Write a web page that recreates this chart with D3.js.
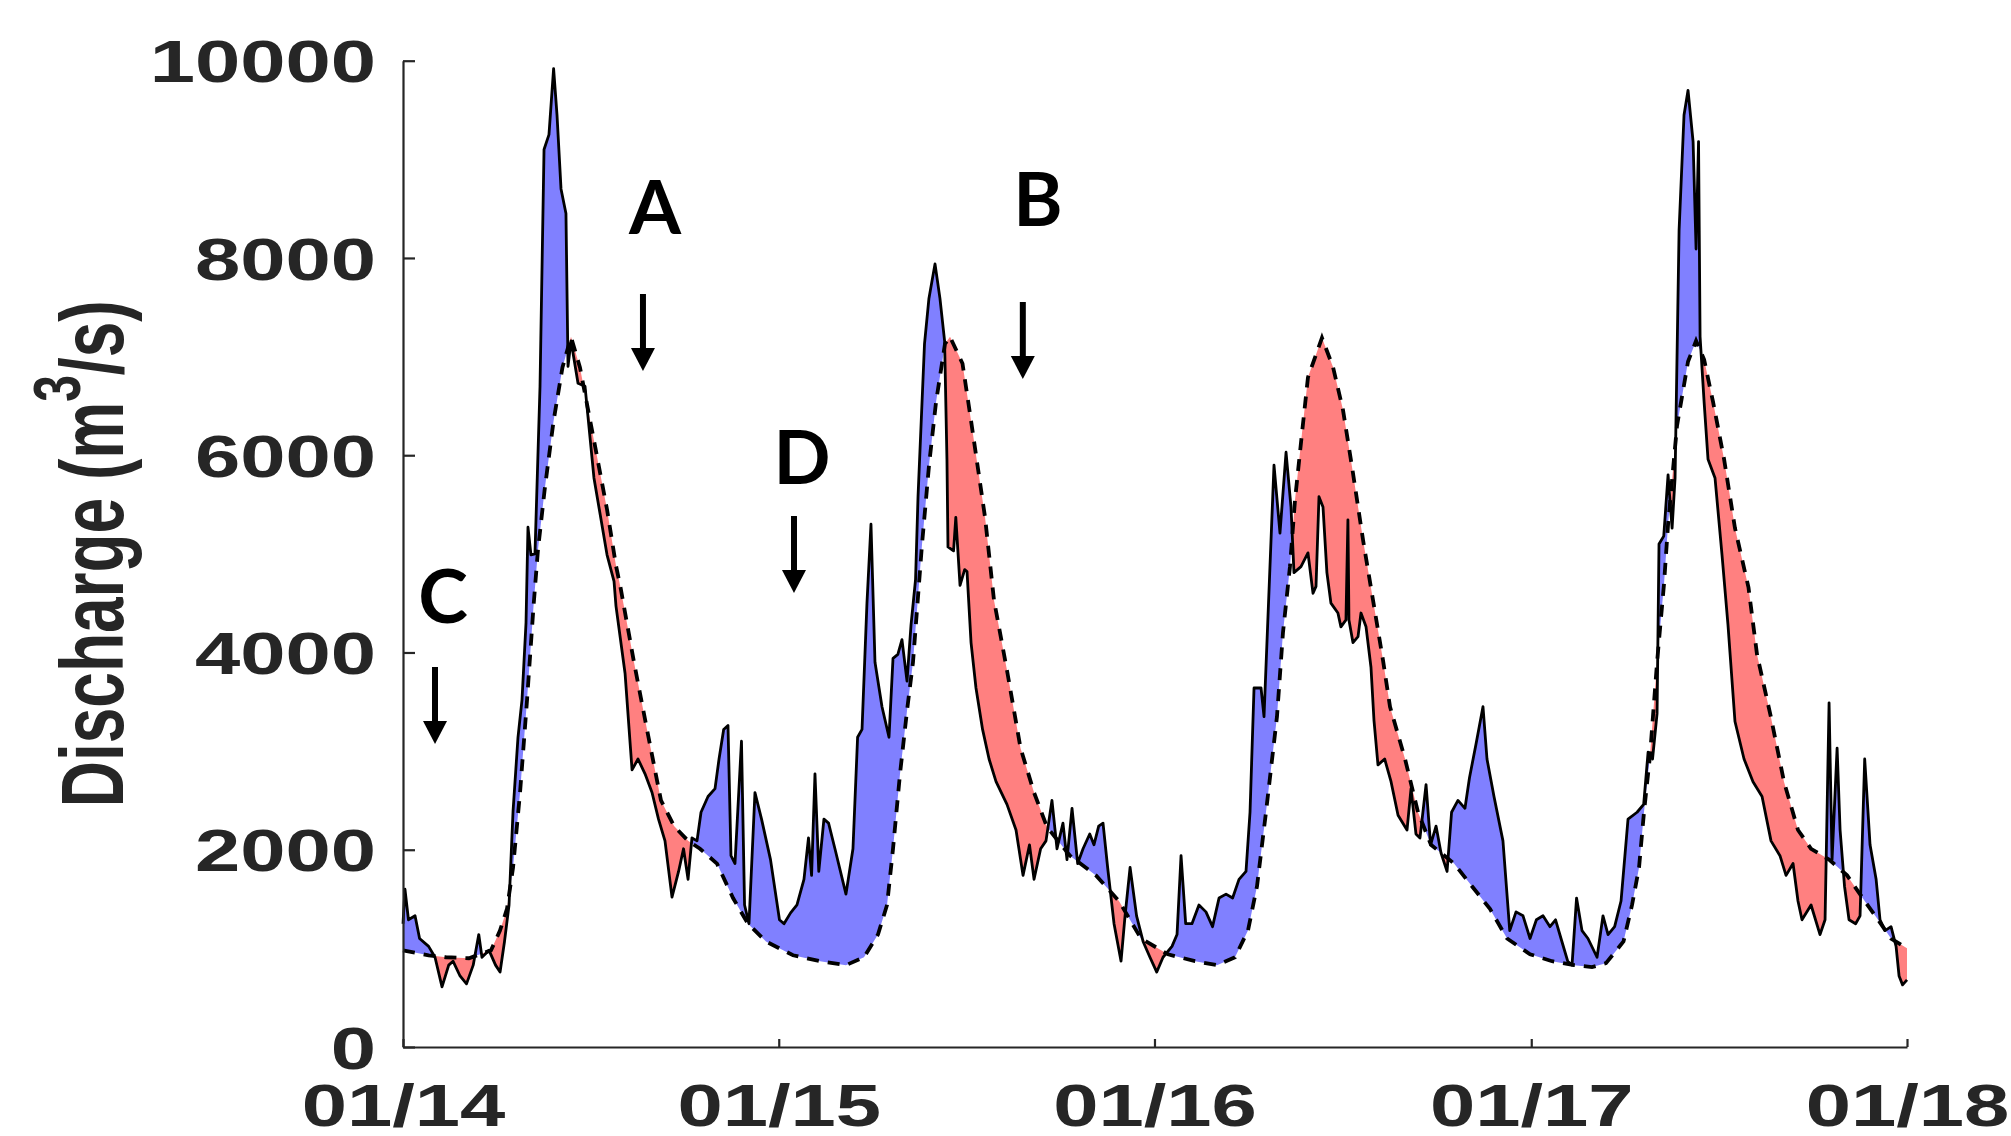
<!DOCTYPE html>
<html><head><meta charset="utf-8">
<script src="https://cdn.jsdelivr.net/npm/d3@7"></script>
<style>html,body{margin:0;padding:0;background:#fff;} svg{display:block;background:#fff}</style>
</head><body>
<svg id="chart" width="2011" height="1136"></svg>
<script>
// ---------------- DATA ----------------
const xTickLabels = ["01/14","01/15","01/16","01/17","01/18"];
const yTickValues = [0,2000,4000,6000,8000,10000];
const yTitle = ["Discharge (m", "3", "/s)"];

// observed discharge: [days since 2014-01-01, m3/s]
const observed = [
[0,1250],[1.9,1600],[5.3,1290],[11.7,1330],[16.1,1100],[24.9,1020],[31.1,910],[37.9,610],[44.4,830],[48.6,870],
[55.4,720],[61.7,640],[68.2,830],[73.6,1140],[76.7,910],[83.6,980],[89.9,830],[94.3,760],[98.6,1070],[103,1440],
[106.9,2390],[111.7,3140],[115.6,3520],[119.5,4300],[121.4,5270],[124.3,4990],[128.2,5000],[133.1,6700],[137,9100],[141.8,9250],
[146.3,9920],[149.6,9450],[153.5,8700],[158.3,8450],[160.3,6900],[163.2,7160],[170,6730],[176.8,6700],[185.5,5770],[198.2,4990],
[205,4720],[206.9,4470],[215.7,3790],[222.5,2810],[228.3,2920],[235.1,2770],[241.9,2580],[248.2,2310],[254.5,2090],[261.3,1520],
[267.7,1780],[272.5,2010],[276.9,1700],[280.7,2120],[285.6,2090],[289.5,2380],[296.3,2540],[303.1,2620],[307,2920],[311.5,3220],
[315.7,3260],[318.6,1940],[322.5,1860],[328.8,3100],[331.8,1440],[336.1,1250],[341.9,2580],[348.3,2310],[357,1900],[365.7,1290],
[370.1,1250],[376.5,1360],[382.7,1440],[389.5,1700],[393.9,2120],[396.9,1740],[400.2,2770],[403.9,1780],[408.9,2310],[413.4,2270],
[419.6,2010],[430.3,1550],[437.1,2010],[441.6,3140],[445.9,3220],[450.7,4500],[454.6,5300],[458.5,3900],[465.3,3450],[472.1,3140],
[476,3940],[480.7,3980],[484.7,4130],[489.6,3710],[493.5,4280],[497.9,4740],[500.3,5580],[506.6,7130],[510.9,7590],[516.8,7940],
[521.6,7590],[526.1,7160],[528.4,5960],[529.4,5070],[534.8,5030],[537,5370],[541.1,4680],[545.6,4840],[547.9,4820],[551.8,4100],
[556.6,3640],[563,3220],[569.3,2920],[576.1,2690],[586.7,2460],[595.5,2200],[602.3,1740],[608.6,2050],[613,1700],[619.4,2010],
[624.6,2090],[630.4,2500],[635.3,2010],[641.1,2270],[645,1900],[649.9,2420],[655.4,1860],[660.6,2010],[667.1,2160],[671.2,2050],
[675.8,2240],[680,2270],[684.5,1820],[690.7,1250],[697.5,870],[701.4,1330],[706.3,1820],[712.6,1330],[718.9,1070],[725.6,910],
[732.2,760],[738.3,910],[747,1020],[751.9,1140],[755.8,1940],[760.3,1250],[766.4,1250],[773.2,1440],[780,1370],[786.4,1220],
[792.7,1510],[799.5,1550],[805.9,1510],[812.1,1700],[818.9,1780],[822.8,2380],[826.7,3640],[833.5,3640],[836.4,3350],[846.1,5900],
[851.9,5210],[857.8,6030],[862.6,5475],[865.5,4810],[872.3,4870],[879.1,5010],[884,4600],[886.9,4670],[889.8,5580],[893.7,5475],
[897.5,4810],[901.4,4500],[908.2,4400],[911.1,4260],[916,4330],[917.9,5345],[918.9,4330],[922.8,4100],[927.7,4160],[930.6,4400],
[935.5,4260],[940.3,3850],[943.2,3315],[947.1,2860],[953.6,2920],
[959.8,2690],[966.6,2350],[975.3,2200],[979.2,2620],[984,2160],[987.9,2120],[993.8,2660],[998.2,2050],[1003.5,2240],[1008.3,1970],
[1014.2,1780],[1018.6,2380],[1024.8,2500],[1031.6,2420],[1036,2730],[1042.3,3070],[1049.1,3450],[1053,2920],[1059.8,2540],[1068.5,2090],
[1075.1,1180],[1081.2,1370],[1088,1330],[1094.8,1100],[1101,1290],[1107.4,1330],[1114.2,1220],[1119.6,1290],[1124.9,1100],[1131.4,870],
[1135.6,830],[1140,1510],[1145.3,1180],[1151.1,1100],[1159.9,910],[1165.7,1330],[1170.6,1140],[1177,1220],[1183.2,1480],[1190,2310],
[1198.8,2380],[1205.2,2460],[1209.5,2990],[1213.8,2920],[1218.2,3380],[1220.1,5100],[1224.7,5180],[1228.9,5800],[1232.8,5260],[1235.7,5770],
[1239.6,8280],[1244.4,9450],[1248.3,9700],[1253.2,9180],[1256.1,8090],[1258.5,9180],[1260,7200],[1263.9,6540],[1267.7,5960],[1274.5,5770],
[1281.3,4990],[1287.1,4280],[1293.9,3300],[1302.7,2920],[1311.4,2690],[1320.2,2540],[1328.9,2090],[1337.6,1940],[1343.5,1740],[1350.3,1860],
[1355.1,1480],[1359,1290],[1367.8,1440],[1376.5,1140],[1381.4,1290],[1385.3,3490],[1388.2,1900],[1393.1,3030],[1396,2200],[1400.3,1630],
[1404.7,1290],[1411.1,1250],[1415.4,1330],[1419.9,2920],[1425.1,2050],[1431,1700],[1434.8,1290],[1439.7,1180],[1445.5,1220],[1450.4,1020],
[1453.3,720],[1456.7,630],[1461,680]
];

// modelled (reference) discharge: [days since 2014-01-01, m3/s]
const model = [
[0,980],[24.9,930],[41.8,910],[64.1,900],[85.5,980],[94.2,1180],[101,1400],[106.9,1820],[113.7,2580],[120.5,3520],
[126.8,4470],[131.1,5040],[137.6,5650],[146.3,6350],[154.9,6890],[163.2,7200],[171.9,6890],[185.5,6150],[198.2,5450],[206.9,4880],
[211.3,4660],[224.4,3900],[237,3220],[250.6,2500],[263.3,2240],[276.9,2090],[288.5,2010],[305,1860],[320.6,1510],[335.1,1250],
[352.6,1070],[378.9,930],[405.1,870],[430.3,830],[447.8,910],[461.4,1140],[470.2,1440],[476,2010],[482.8,2770],[489.6,3410],
[495.4,3900],[504.2,5100],[511,5900],[517.8,6540],[526.5,7130],[531.4,7200],[543.5,6930],[551.8,6350],[565.4,5370],[574.1,4530],
[586.7,3820],[599.9,3030],[613,2580],[625.6,2230],[647.9,1940],[673.2,1740],[695.5,1480],[716.9,1100],[743.1,940],[769.4,870],
[790.7,830],[808.2,910],[820.8,1180],[829.6,1630],[838.3,2380],[849,3350],[854.8,4200],[861.6,4870],[866.5,5545],[873.3,6225],
[879.1,6790],[892.7,7190],[903.4,6895],[913.1,6460],[922.8,5820],[932.6,5140],[942.3,4530],[952,3920],[958.8,3450],[973.4,2920],
[986,2380],[998.6,2050],
[1021,1860],[1038.4,1630],[1055.9,1400],[1072.5,1100],[1094.8,940],[1116.2,870],[1137.5,830],[1155,810],[1168.6,850],[1185.6,1070],
[1193.9,1440],[1200.7,1820],[1205.5,2380],[1211.4,2960],[1218.2,3900],[1225,4700],[1228.9,5300],[1237.6,6300],[1248.3,6950],[1256.1,7160],
[1263.9,6970],[1272.6,6540],[1283.3,5960],[1293.9,5260],[1307,4660],[1315.3,3980],[1328.9,3340],[1341.5,2690],[1355.1,2200],[1367.8,2010],
[1385.3,1900],[1402.8,1740],[1419.9,1480],[1432.9,1290],[1445.5,1100],[1461,1000]
];

// annotation letters and arrows (anchored in data units)
const annLabels = ["A","B","C","D"];
const annArrowDay = [233.1, 602.1, 31.1, 379.8];
const annArrowQ   = [6854, 6773, 3072, 4603];
const annTextDay  = [244.8, 616.8, 38.9, 387.6];
const annTextQ    = [8243, 8324, 4299, 5708];

// ---------------- DRAW ----------------
const W = 2011, H = 1136;
const SX = 1.38;              // horizontal stretch of the original figure's text
const tickFont = "'Liberation Sans', Arial, Helvetica, sans-serif";
const axisColor = "#262626";

const svg = d3.select("#chart");
svg.append("rect").attr("width", W).attr("height", H).attr("fill", "#fff");

const start = Date.UTC(2014,0,1);
const dayToDate = d => new Date(start + d*86400000);
const xTickDates = xTickLabels.map(s => new Date(Date.UTC(2000 + (+s.slice(3)), +s.slice(0,2) - 1, 1)));

const x = d3.scaleUtc().domain([xTickDates[0], xTickDates[xTickDates.length-1]]).range([403, 1907]);
const y = d3.scaleLinear().domain([0, 10000]).range([1047, 60.7]);

const X = d => x(dayToDate(d[0]));
const Y = d => y(d[1]);

const defs = svg.append("defs");
defs.append("clipPath").attr("id","aboveModel").append("path")
  .attr("d", d3.area().x(X).y0(0).y1(Y)(model));
defs.append("clipPath").attr("id","belowModel").append("path")
  .attr("d", d3.area().x(X).y0(H).y1(Y)(model));

// blue where observed > model, red where observed < model
svg.append("path")
  .attr("d", d3.area().x(X).y0(H).y1(Y)(observed))
  .attr("fill", "#8080ff")
  .attr("clip-path", "url(#aboveModel)");
svg.append("path")
  .attr("d", d3.area().x(X).y0(0).y1(Y)(observed))
  .attr("fill", "#ff8080")
  .attr("clip-path", "url(#belowModel)");

svg.append("path")
  .attr("d", d3.line().x(X).y(Y)(observed))
  .attr("fill", "none").attr("stroke", "#000").attr("stroke-width", 2.8)
  .attr("stroke-linejoin", "round");

svg.append("path")
  .attr("d", d3.line().x(X).y(Y)(model))
  .attr("fill", "none").attr("stroke", "#000").attr("stroke-width", 3.8)
  .attr("stroke-dasharray", "12,9");

// axes
const gx = svg.append("g").attr("transform", `translate(0,${y(0)})`)
  .call(d3.axisBottom(x).tickValues(xTickDates).tickFormat((d,i) => xTickLabels[i])
        .tickSizeInner(-8).tickSizeOuter(0));
const gy = svg.append("g").attr("transform", `translate(${x(xTickDates[0])},0)`)
  .call(d3.axisLeft(y).tickValues(yTickValues).tickFormat(d3.format("d"))
        .tickSizeInner(-12).tickSizeOuter(0));

[gx, gy].forEach(g => {
  g.attr("font-family", tickFont).attr("font-size", 59).attr("font-weight", "bold");
  g.select(".domain").attr("stroke", axisColor).attr("stroke-width", 2.2);
  g.selectAll(".tick line").attr("stroke", axisColor).attr("stroke-width", 2.2);
  g.selectAll(".tick text").attr("fill", axisColor);
});
gx.selectAll(".tick text").attr("y", 79).attr("dy", 0).attr("transform", `scale(${SX},1)`);
gy.selectAll(".tick text").attr("x", -27 / SX).attr("dy", "0.36em").attr("transform", `scale(${SX},1)`);

// y-axis title
const title = svg.append("text")
  .attr("transform", `translate(123,${(y(0) + y(10000)) / 2}) scale(${SX},1) rotate(-90)`)
  .attr("text-anchor", "middle")
  .attr("font-family", tickFont).attr("font-size", 64).attr("font-weight", "bold")
  .attr("fill", axisColor);
title.append("tspan").text(yTitle[0]);
title.append("tspan").attr("dy", -31).attr("font-size", 48).text(yTitle[1]);
title.append("tspan").attr("dy", 31).text(yTitle[2]);

// annotations
const ann = svg.append("g");
annLabels.forEach((lab, i) => {
  const ax = x(dayToDate(annArrowDay[i]));
  const tip = y(annArrowQ[i]);
  ann.append("line").attr("x1", ax).attr("x2", ax).attr("y1", tip - 77).attr("y2", tip - 20)
    .attr("stroke", "#000").attr("stroke-width", 6);
  ann.append("path")
    .attr("d", d3.line()([[ax - 12, tip - 23], [ax + 12, tip - 23], [ax, tip]]) + "Z")
    .attr("fill", "#000");
  ann.append("text")
    .attr("x", x(dayToDate(annTextDay[i]))).attr("y", y(annTextQ[i]))
    .attr("text-anchor", "middle")
    .attr("font-family", "Lato, 'Open Sans', sans-serif").attr("font-weight", "bold")
    .attr("font-size", 75).attr("fill", "#000")
    .text(lab);
});
</script>
</body></html>
